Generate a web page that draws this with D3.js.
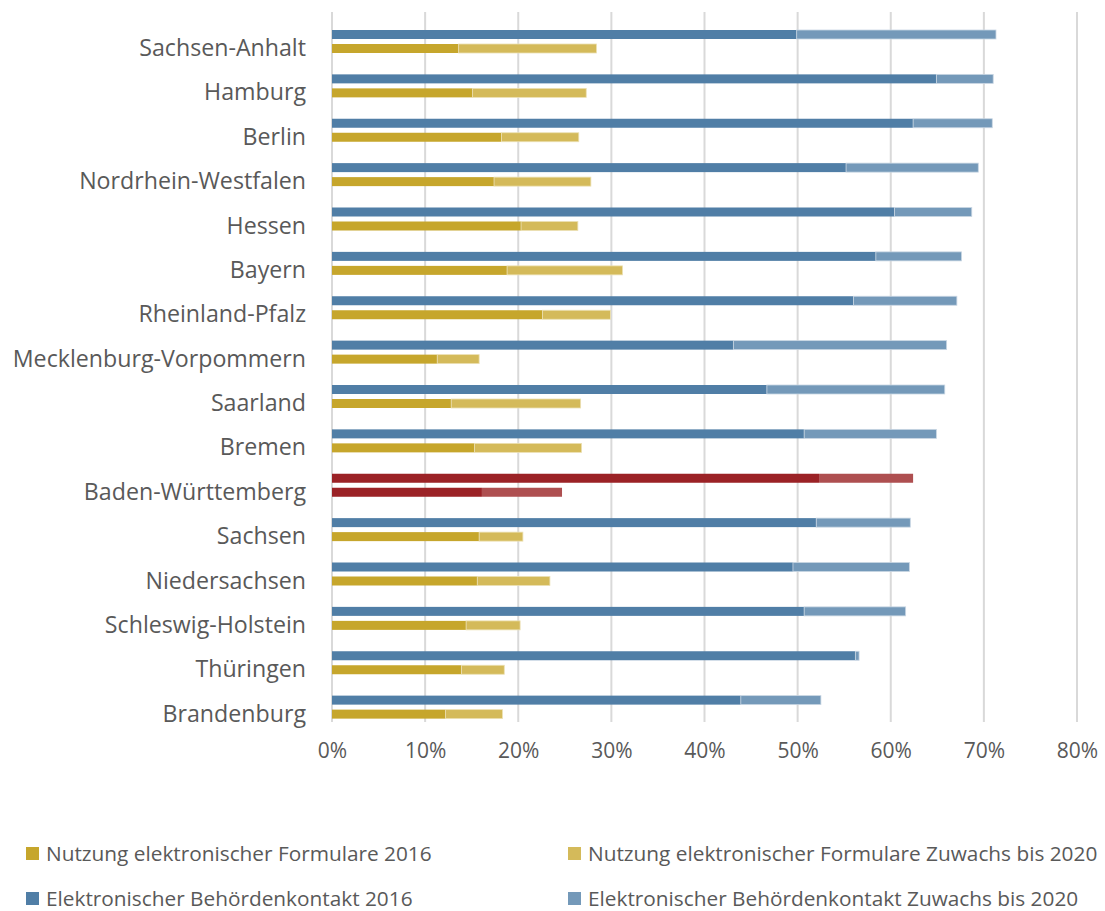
<!DOCTYPE html>
<html>
<head>
<meta charset="utf-8">
<script src="https://cdn.jsdelivr.net/npm/d3@7"></script>
<style>
  body { margin: 0; background: #fff; }
  text { font-family: "Open Sans", sans-serif; fill: #595959; }
</style>
</head>
<body>
<div id="chart"></div>
<script>
// Bundeslaender, von oben nach unten
const states = ["Sachsen-Anhalt", "Hamburg", "Berlin", "Nordrhein-Westfalen", "Hessen", "Bayern",
  "Rheinland-Pfalz", "Mecklenburg-Vorpommern", "Saarland", "Bremen", "Baden-Württemberg",
  "Sachsen", "Niedersachsen", "Schleswig-Holstein", "Thüringen", "Brandenburg"];

// Werte in Prozent
const kontakt2016 = [49.9, 64.9, 62.4, 55.2, 60.4, 58.4, 56.0, 43.1, 46.7, 50.7, 52.3, 52.0, 49.5, 50.7, 56.2, 43.9];
const kontaktZuwachs = [21.4, 6.1, 8.5, 14.2, 8.3, 9.2, 11.1, 22.9, 19.1, 14.2, 10.1, 10.1, 12.5, 10.9, 0.4, 8.6];
const formulare2016 = [13.6, 15.1, 18.2, 17.4, 20.3, 18.8, 22.6, 11.3, 12.8, 15.3, 16.1, 15.8, 15.6, 14.4, 13.9, 12.2];
const formulareZuwachs = [14.8, 12.2, 8.3, 10.4, 6.1, 12.4, 7.3, 4.5, 13.9, 11.5, 8.6, 4.7, 7.8, 5.8, 4.6, 6.1];

const xTicks = [0, 10, 20, 30, 40, 50, 60, 70, 80];
const highlight = "Baden-Württemberg";

const legendItems = [
  "Nutzung elektronischer Formulare 2016",
  "Nutzung elektronischer Formulare Zuwachs bis 2020",
  "Elektronischer Behördenkontakt 2016",
  "Elektronischer Behördenkontakt Zuwachs bis 2020"
];

const colors = {
  goldDark: "#c6a62c", goldLight: "#d4ba5a",
  blueDark: "#507ea6", blueLight: "#7499b9",
  redDark: "#9b2226", redLight: "#ae4f50"
};

const width = 1105, height = 911;
const svg = d3.select("#chart").append("svg")
  .attr("width", width)
  .attr("height", height);

const x = d3.scaleLinear().domain([0, 80]).range([332, 1077]);
const y = d3.scaleBand().domain(states).range([12, 722]);
const barH = 9;

// gridlines
svg.append("g")
  .selectAll("line")
  .data(xTicks)
  .join("line")
  .attr("x1", d => x(d)).attr("x2", d => x(d))
  .attr("y1", 12).attr("y2", 722)
  .attr("stroke", "#d9d9d9")
  .attr("stroke-width", 2);

// tick labels via axis
const xAxis = d3.axisBottom(x)
  .tickValues(xTicks)
  .tickSize(0)
  .tickPadding(0)
  .tickFormat(d => d + "%");

const gx = svg.append("g")
  .attr("transform", "translate(0, 741)")
  .call(xAxis);
gx.select(".domain").remove();
gx.selectAll("text")
  .attr("dy", "17px")
  .style("font-size", "21px")
  .style("fill", "#595959");

// category labels
svg.append("g")
  .selectAll("text")
  .data(states)
  .join("text")
  .attr("x", 306)
  .attr("y", d => y(d) + 44)
  .attr("text-anchor", "end")
  .style("font-size", "23.2px")
  .text(d => d);

const rows = states.map((s, i) => ({
  state: s,
  k0: kontakt2016[i], k1: kontaktZuwachs[i],
  f0: formulare2016[i], f1: formulareZuwachs[i],
  hl: s === highlight
}));

const bars = svg.append("g");

// Behoerdenkontakt (oberer Balken)
bars.selectAll(".k0")
  .data(rows)
  .join("rect")
  .attr("x", x(0))
  .attr("y", d => y(d.state) + 18)
  .attr("width", d => x(d.k0) - x(0))
  .attr("height", barH)
  .attr("fill", d => d.hl ? colors.redDark : colors.blueDark);

bars.selectAll(".k1")
  .data(rows)
  .join("rect")
  .attr("x", d => x(d.k0))
  .attr("y", d => y(d.state) + 18)
  .attr("width", d => x(d.k0 + d.k1) - x(d.k0))
  .attr("height", barH)
  .attr("fill", d => d.hl ? colors.redLight : colors.blueLight)
  .attr("stroke", d => d.hl ? "none" : "#c9d6e3")
  .attr("stroke-width", 0.8);

// Formulare (unterer Balken)
bars.selectAll(".f0")
  .data(rows)
  .join("rect")
  .attr("x", x(0))
  .attr("y", d => y(d.state) + 32)
  .attr("width", d => x(d.f0) - x(0))
  .attr("height", barH)
  .attr("fill", d => d.hl ? colors.redDark : colors.goldDark);

bars.selectAll(".f1")
  .data(rows)
  .join("rect")
  .attr("x", d => x(d.f0))
  .attr("y", d => y(d.state) + 32)
  .attr("width", d => x(d.f0 + d.f1) - x(d.f0))
  .attr("height", barH)
  .attr("fill", d => d.hl ? colors.redLight : colors.goldLight)
  .attr("stroke", d => d.hl ? "none" : "#ece0b4")
  .attr("stroke-width", 0.8);

// legend
const legendColors = [colors.goldDark, colors.goldLight, colors.blueDark, colors.blueLight];
const legend = svg.append("g")
  .selectAll("g")
  .data(legendItems)
  .join("g")
  .attr("transform", (d, i) => `translate(${i % 2 === 0 ? 26 : 568}, ${847 + Math.floor(i / 2) * 45})`);

legend.append("rect")
  .attr("width", 13)
  .attr("height", 13)
  .attr("fill", (d, i) => legendColors[i]);

legend.append("text")
  .attr("x", 20)
  .attr("y", 13.5)
  .style("font-size", "20.8px")
  .text(d => d);
</script>
</body>
</html>
